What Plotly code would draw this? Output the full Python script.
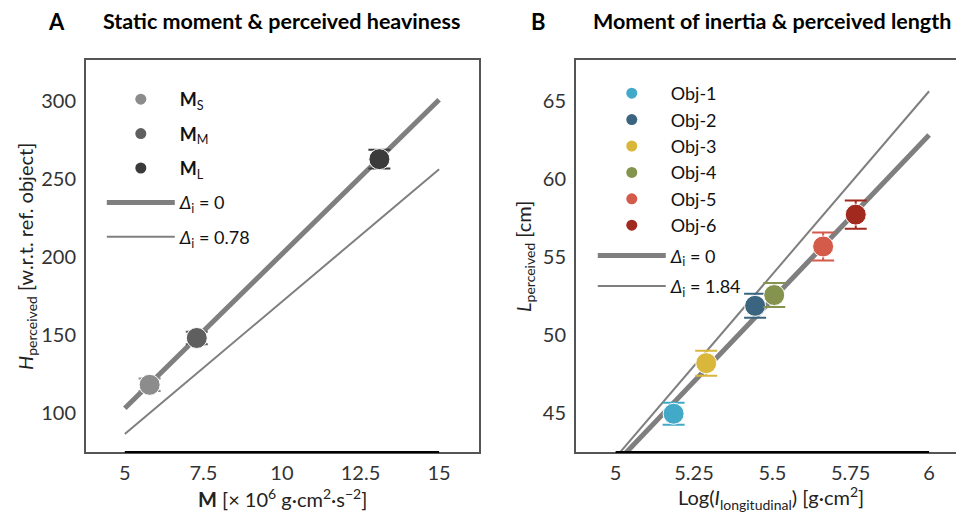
import plotly.graph_objects as go

# ---------- data ----------
# Panel A
a_names = ["<b>M</b><sub>S</sub>", "<b>M</b><sub>M</sub>", "<b>M</b><sub>L</sub>"]
a_x = [5.79, 7.29, 13.1]
a_y = [118.0, 148.0, 262.5]
a_err = [4.0, 4.0, 6.0]
a_colors = ["#8c8c8c", "#5f5f5f", "#3b3b3b"]
a_line0_x = [5, 15]
a_line0_y = [103.0, 300.5]
a_line1_x = [5, 15]
a_line1_y = [86.5, 256.0]
a_line_names = ["<i>Δ</i><sub>i</sub> = 0", "<i>Δ</i><sub>i</sub> = 0.78"]
a_xticks = [5, 7.5, 10, 12.5, 15]
a_yticks = [100, 150, 200, 250, 300]

# Panel B
b_names = ["Obj-1", "Obj-2", "Obj-3", "Obj-4", "Obj-5", "Obj-6"]
b_x = [5.185, 5.445, 5.289, 5.506, 5.662, 5.766]
b_y = [44.95, 51.86, 48.19, 52.55, 55.66, 57.70]
b_err = [0.70, 0.77, 0.80, 0.77, 0.90, 0.90]
b_colors = ["#43a9c9", "#3b6480", "#d9b73a", "#84944f", "#d45b4a", "#a2291e"]
b_line0_x = [5, 6]
b_line0_y = [41.76, 62.80]
b_line1_x = [5, 6]
b_line1_y = [42.15, 65.60]
b_line_names = ["<i>Δ</i><sub>i</sub> = 0", "<i>Δ</i><sub>i</sub> = 1.84"]
b_xticks = [5, 5.25, 5.5, 5.75, 6]
b_xticktext = ["5", "5.25", "5.5", "5.75", "6"]
b_yticks = [45, 50, 55, 60, 65]

FONT = "Lato"
GRAY = "#7f7f7f"
W, H = 956, 510  # page body adds an 8px margin


def px(v):
    return v / W


def py(v):
    return 1 - v / H


fig = go.Figure()

# ----- panel A -----
fig.add_trace(go.Scatter(x=a_line0_x, y=a_line0_y, mode="lines", name=a_line_names[0],
                         line=dict(color=GRAY, width=5), xaxis="x", yaxis="y",
                         legend="legend", legendrank=10, legendgroup="a_l0"))
fig.add_trace(go.Scatter(x=a_line1_x, y=a_line1_y, mode="lines", name=a_line_names[1],
                         line=dict(color=GRAY, width=2), xaxis="x", yaxis="y",
                         legend="legend", legendrank=11, legendgroup="a_l1"))
for i in range(len(a_x)):
    fig.add_trace(go.Scatter(x=[a_x[i]], y=[a_y[i]], mode="markers", name=a_names[i],
                             marker=dict(size=21, color=a_colors[i], line=dict(color="white", width=1)),
                             error_y=dict(type="data", array=[a_err[i]], color=a_colors[i],
                                          thickness=2, width=11),
                             xaxis="x", yaxis="y", showlegend=False))
    # legend entry (smaller symbol)
    fig.add_trace(go.Scatter(x=[None], y=[None], mode="markers", name=a_names[i],
                             marker=dict(size=11, color=a_colors[i]),
                             xaxis="x", yaxis="y", legend="legend", legendrank=i + 1,
                             legendgroup="a_m%d" % i))

# ----- panel B -----
fig.add_trace(go.Scatter(x=b_line0_x, y=b_line0_y, mode="lines", name=b_line_names[0],
                         line=dict(color=GRAY, width=5), xaxis="x2", yaxis="y2",
                         legend="legend2", legendrank=10, legendgroup="b_l0"))
fig.add_trace(go.Scatter(x=b_line1_x, y=b_line1_y, mode="lines", name=b_line_names[1],
                         line=dict(color=GRAY, width=2), xaxis="x2", yaxis="y2",
                         legend="legend2", legendrank=11, legendgroup="b_l1"))
for i in range(len(b_x)):
    fig.add_trace(go.Scatter(x=[b_x[i]], y=[b_y[i]], mode="markers", name=b_names[i],
                             marker=dict(size=21, color=b_colors[i], line=dict(color="white", width=1)),
                             error_y=dict(type="data", array=[b_err[i]], color=b_colors[i],
                                          thickness=2, width=11),
                             xaxis="x2", yaxis="y2", showlegend=False))
    fig.add_trace(go.Scatter(x=[None], y=[None], mode="markers", name=b_names[i],
                             marker=dict(size=11, color=b_colors[i]),
                             xaxis="x2", yaxis="y2", legend="legend2", legendrank=i + 1,
                             legendgroup="b_objs"))

ax_common = dict(showgrid=False, zeroline=False, showline=True, linecolor="#555555", linewidth=1.5,
                 mirror=True, ticks="", tickfont=dict(family=FONT, size=20, color="#333333"))

y0, y1 = (H - 444) / H, (H - 52) / H

fig.update_layout(
    width=W, height=H,
    margin=dict(l=0, r=0, t=0, b=0),
    paper_bgcolor="white", plot_bgcolor="white",
    font=dict(family=FONT, size=18, color="#222222"),
    xaxis=dict(domain=[px(78), px(472)], range=[3.76, 16.27], tickvals=a_xticks,
               ticklabelstandoff=2, **ax_common),
    yaxis=dict(domain=[y0, y1], range=[75, 326], tickvals=a_yticks, ticklabelstandoff=4, **ax_common),
    xaxis2=dict(domain=[px(569), 1.0], range=[4.873, 6.105], tickvals=b_xticks,
                ticktext=b_xticktext, ticklabelstandoff=2, anchor="y2", **ax_common),
    yaxis2=dict(domain=[y0, y1], range=[42.5, 67.6], tickvals=b_yticks, anchor="x2",
                ticklabelstandoff=4, **ax_common),
    legend=dict(x=px(94), y=py(73), xanchor="left", yanchor="top",
                bgcolor="rgba(0,0,0,0)", itemwidth=68, itemsizing="trace",
                font=dict(family=FONT, size=18, color="#111111"), tracegroupgap=8),
    legend2=dict(x=px(586), y=py(67), xanchor="left", yanchor="top",
                 bgcolor="rgba(0,0,0,0)", itemwidth=68, itemsizing="trace",
                 font=dict(family=FONT, size=18, color="#111111"), tracegroupgap=4),
    showlegend=True,
)

# black baseline segments spanning the tick range
fig.add_shape(type="line", xref="x", yref="y domain", x0=a_xticks[0], x1=a_xticks[-1], y0=0, y1=0,
              line=dict(color="black", width=2))
fig.add_shape(type="line", xref="x2", yref="y2 domain", x0=b_xticks[0], x1=b_xticks[-1], y0=0, y1=0,
              line=dict(color="black", width=2))

ann = [
    dict(text="<b>A</b>", x=px(49), y=py(13), font=dict(size=22, color="black")),
    dict(text="<b>Static moment & perceived heaviness</b>", x=px(274), y=py(13),
         font=dict(size=21.5, color="black")),
    dict(text="<b>B</b>", x=px(532), y=py(13), font=dict(size=22, color="black")),
    dict(text="<b>Moment of inertia & perceived length</b>", x=px(766), y=py(13),
         font=dict(size=21.5, color="black")),
    dict(text="<b>M</b> [× 10<sup>6</sup> g·cm<sup>2</sup>·s<sup>−2</sup>]", x=px(275), y=py(490),
         font=dict(size=20, color="#222222")),
    dict(text="Log(<i>I</i><sub>longitudinal</sub>) [g·cm<sup>2</sup>]", x=px(765), y=py(490),
         font=dict(size=20, color="#222222")),
    dict(text="<i>H</i><sub>perceived</sub> [w.r.t. ref. object]", x=px(18), y=py(248),
         textangle=-90, font=dict(size=20, color="#222222")),
    dict(text="<i>L</i><sub>perceived</sub> [cm]", x=px(517), y=py(248),
         textangle=-90, font=dict(size=20, color="#222222")),
]
for a in ann:
    a.update(xref="paper", yref="paper", showarrow=False, xanchor="center", yanchor="middle")
    a["font"]["family"] = FONT
    fig.add_annotation(**a)

fig.write_html("out.html")
